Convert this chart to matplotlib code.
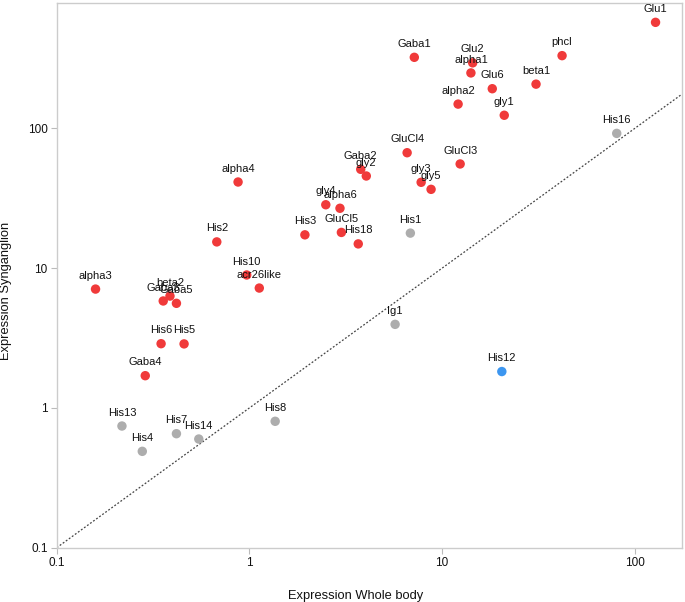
import matplotlib
matplotlib.use("Agg")
import matplotlib.pyplot as plt
import numpy as np

plt.rcParams['font.family'] = ['Liberation Sans', 'DejaVu Sans']

names = ["Glu1", "Gaba1", "Glu2", "alpha1", "phcl", "Glu6", "beta1", "alpha2", "gly1",
         "His16", "GluCl4", "GluCl3", "Gaba2", "gly2", "alpha4", "gly3", "gly5", "gly4",
         "alpha6", "His3", "GluCl5", "His18", "His1", "His2", "His10", "acr26like",
         "alpha3", "Gaba3", "beta2", "Gaba5", "His6", "His5", "Gaba4", "Ig1", "His12",
         "His13", "His4", "His7", "His14", "His8"]
whole_body = [128, 7.17, 14.4, 14.1, 41.9, 18.2, 30.7, 12.1, 21.0,
              80.5, 6.58, 12.4, 3.78, 4.04, 0.873, 7.78, 8.76, 2.49,
              2.95, 1.94, 3.0, 3.67, 6.84, 0.677, 0.968, 1.125,
              0.159, 0.357, 0.387, 0.418, 0.348, 0.458, 0.288, 5.70, 20.4,
              0.218, 0.278, 0.418, 0.546, 1.36]
synganglion = [573, 322, 294, 249, 331, 192, 207, 149, 124,
               92, 66.9, 55.6, 50.9, 45.6, 41.3, 41.1, 36.6, 28.4,
               26.8, 17.3, 18.0, 14.9, 17.8, 15.4, 8.93, 7.2,
               7.08, 5.82, 6.31, 5.60, 2.88, 2.87, 1.70, 3.96, 1.82,
               0.742, 0.489, 0.654, 0.599, 0.802]
groups = ["red"] * 9 + ["gray"] + ["red"] * 12 + ["gray"] + ["red"] * 10 + ["gray", "blue"] + ["gray"] * 5
group_colors = {"red": "#F03A3A", "gray": "#ADADAD", "blue": "#3C96F0"}

xlim = (0.1, 175)
ylim = (0.1, 794)

fig = plt.figure(figsize=(6.85, 6.02), dpi=100)
ax = fig.add_axes([0.0828, 0.0902, 0.9124, 0.9056])
ax.set_xscale('log')
ax.set_yscale('log')
ax.set_xlim(*xlim)
ax.set_ylim(*ylim)

# identity line
ax.plot(xlim, xlim, linestyle=(0, (1.5, 1.5)), color='#444444', linewidth=0.9, zorder=1)

cols = [group_colors[g] for g in groups]
ax.scatter(whole_body, synganglion, s=46, c=cols, edgecolors='none', zorder=2)

for n, xv, yv in zip(names, whole_body, synganglion):
    ax.annotate(n, (xv, yv), xytext=(0, 7.5), textcoords='offset points',
                ha='center', va='baseline', fontsize=8, color='#111111', zorder=3)

ticks = [0.1, 1, 10, 100]
ticklabels = ["0.1", "1", "10", "100"]
ax.set_xticks(ticks)
ax.set_xticklabels(ticklabels)
ax.set_yticks(ticks)
ax.set_yticklabels(ticklabels)
ax.minorticks_off()
ax.tick_params(axis='both', which='major', length=4.5, width=0.8, color='#BBBBBB',
               labelsize=8.5, labelcolor='#111111', pad=2)
for sp in ax.spines.values():
    sp.set_color('#CCCCCC')
    sp.set_linewidth(1.0)

fig.text(355.5 / 685, 1 - 596 / 602, "Expression Whole body", ha='center', va='center',
         fontsize=9.3, color='#111111')
fig.text(6 / 685, 1 - 290.5 / 602, "Expression Synganglion", ha='center', va='center',
         rotation=90, fontsize=9.3, color='#111111')

fig.savefig("out.png", dpi=100)
